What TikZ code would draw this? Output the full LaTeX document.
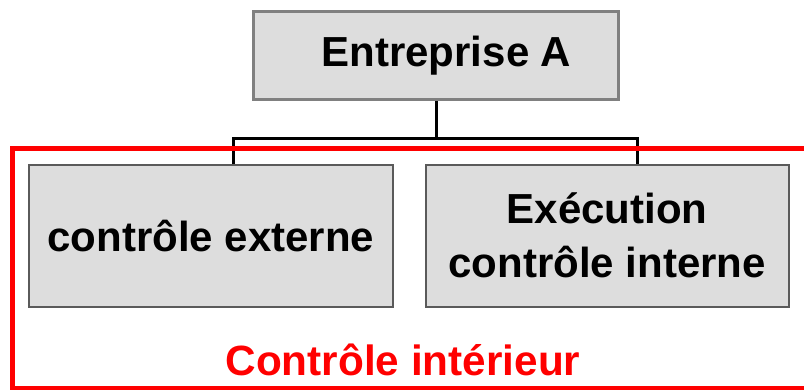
\documentclass[tikz,border=0pt]{standalone}
\usepackage{fontspec}
\setmainfont{Liberation Sans}
\usetikzlibrary{calc}
\definecolor{boxfill}{HTML}{DDDDDD}
\definecolor{boxline}{HTML}{5A5A5A}
\definecolor{topline}{HTML}{808080}
\definecolor{framered}{HTML}{FF0000}
\begin{document}
\begin{tikzpicture}[x=1pt,y=-1pt,
  box/.style={draw=boxline, fill=boxfill, line width=1.5pt, inner sep=0pt,
    anchor=north west, align=center,
    font=\fontsize{42}{54}\selectfont\bfseries},
  conn/.style={draw=black, line width=3pt},
  frame/.style={draw=framered, line width=5pt},
  redlabel/.style={text=framered, font=\fontsize{42.3}{49}\selectfont\bfseries, inner sep=0pt, anchor=base}]
\useasboundingbox (0,0) rectangle (804,389);
\fill[white] (0,0) rectangle (804,389);
% boxes
\node[box, draw=topline, line width=3pt, minimum width=365pt, minimum height=88pt] (top) at (252,10) {\hspace*{21pt}Entreprise A};
\node[box, minimum width=364pt, minimum height=142pt] (lbox) at (28,164) {contrôle externe};
\node[box, minimum width=363pt, minimum height=142pt] (rbox) at (425,164) {Exécution\\contrôle interne};
% connectors
\coordinate (hub) at ($(top.south)+(0,37)$);
\coordinate (la) at ($(lbox.north west)+(205,0)$);
\coordinate (ra) at ($(rbox.north west)+(212,0)$);
\draw[conn] (top.south) -- (hub);
\draw[conn, line join=miter] (la) |- (hub) -| (ra);
% red frame
\coordinate (ftr) at (812,148);
\coordinate (ftl) at (12,148);
\coordinate (fbl) at (12,388.5);
\coordinate (fbr) at (812,388.5);
\draw[frame, line join=miter] (ftr) -- (ftl) -- (fbl) -- (fbr);
\node[redlabel] (lab) at (403,375) {Contrôle intérieur};
\end{tikzpicture}
\end{document}
